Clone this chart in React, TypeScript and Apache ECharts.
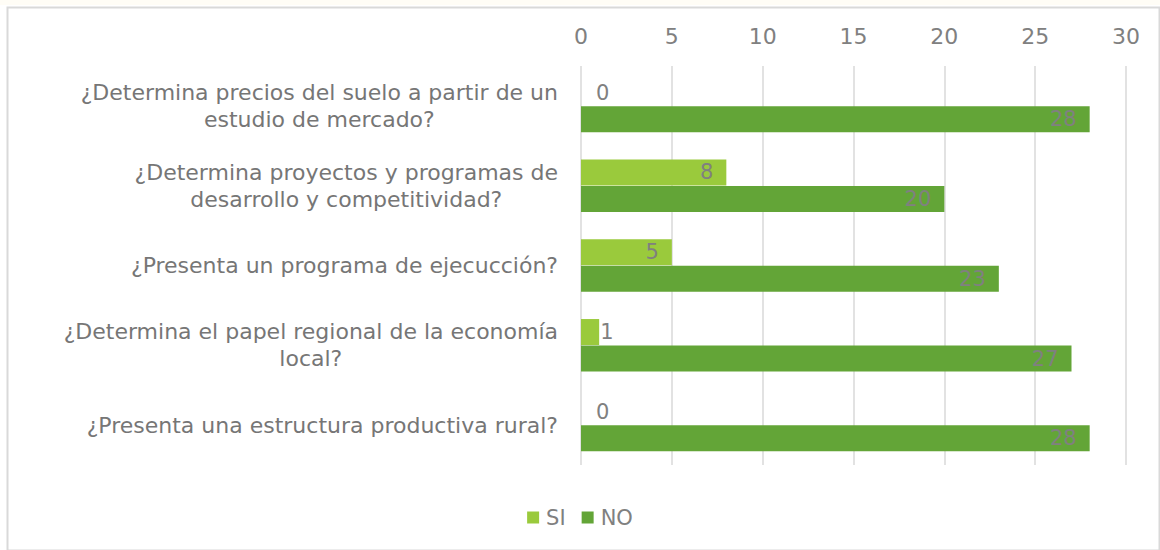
import React, { useEffect, useRef } from "react";
import * as echarts from "echarts";

const categories = [
  "¿Determina precios del suelo a partir de un\nestudio de mercado?",
  "¿Determina proyectos y programas de\ndesarrollo y competitividad?",
  "¿Presenta un programa de ejecucción?",
  "¿Determina el papel regional de la economía\nlocal?",
  "¿Presenta una estructura productiva rural?",
];
const siValues = [0, 8, 5, 1, 0];
const noValues = [28, 20, 23, 27, 28];
const xTicks = { min: 0, max: 30, interval: 5 };

const FONT = "DejaVu Sans";
const GRAY = "#808080";
const LABEL_GRAY = "#767676";
const SI_COLOR = "#9ACA3C";
const NO_COLOR = "#63A537";

// Values too small to hold their label get it placed just past the bar end.
const withLabels = (values: number[]) =>
  values.map((v) => {
    if (v >= 3) return { value: v };
    return {
      value: v,
      label: { position: "right", distance: v === 0 ? 15 : 1 },
    };
  });

export default function App() {
  const ref = useRef<HTMLDivElement>(null);

  useEffect(() => {
    if (!ref.current) return;
    const chart = echarts.init(ref.current, undefined, { renderer: "svg" });
    const labelStyle = {
      show: true,
      position: "insideRight",
      distance: 13,
      color: GRAY,
      fontFamily: FONT,
      fontSize: 21,
    };
    chart.setOption({
      animation: false,
      backgroundColor: "#ffffff",
      textStyle: { fontFamily: FONT },
      graphic: [
        {
          type: "rect",
          left: 0,
          top: 0,
          shape: { width: 1160, height: 5 },
          style: { fill: "#fffdf6" },
          silent: true,
        },
        {
          type: "rect",
          left: 5,
          top: 5,
          shape: { width: 1152, height: 543 },
          style: { fill: "none", stroke: "#d9d9d9", lineWidth: 2 },
          silent: true,
          z: -1,
        },
      ],
      grid: { left: 581, right: 34, top: 66, bottom: 85, containLabel: false },
      xAxis: {
        type: "value",
        position: "top",
        min: xTicks.min,
        max: xTicks.max,
        interval: xTicks.interval,
        axisLine: { show: false },
        axisTick: { show: false },
        axisLabel: { color: GRAY, fontSize: 22, fontFamily: FONT, margin: 19 },
        splitLine: { lineStyle: { color: "#d9d9d9", width: 1.5 } },
      },
      yAxis: {
        type: "category",
        inverse: true,
        data: categories,
        axisLine: { show: false },
        axisTick: { show: false },
        axisLabel: {
          margin: 23,
          align: "right",
          color: LABEL_GRAY,
          fontSize: 22,
          fontFamily: FONT,
          lineHeight: 27,
          formatter: (val: string) =>
            val
              .split("\n")
              .map((line) => `{c|${line}}`)
              .join("\n"),
          rich: {
            c: {
              align: "center",
              color: LABEL_GRAY,
              fontSize: 22,
              fontFamily: FONT,
              lineHeight: 27,
            },
          },
        },
      },
      legend: {
        bottom: 17,
        left: "center",
        itemWidth: 12,
        itemHeight: 12,
        itemGap: 16,
        icon: "rect",
        textStyle: { color: GRAY, fontSize: 21, fontFamily: FONT, padding: [0, 0, 0, 2] },
        data: ["SI", "NO"],
      },
      series: [
        {
          name: "SI",
          type: "bar",
          data: withLabels(siValues),
          itemStyle: { color: SI_COLOR },
          barWidth: 26,
          barGap: "2%",
          label: labelStyle,
        },
        {
          name: "NO",
          type: "bar",
          data: withLabels(noValues),
          itemStyle: { color: NO_COLOR },
          barWidth: 26,
          barGap: "2%",
          label: labelStyle,
        },
      ],
    });
    return () => chart.dispose();
  }, []);

  return (
    <div
      ref={ref}
      style={{ position: "absolute", left: 0, top: 0, width: 1160, height: 550 }}
    />
  );
}
